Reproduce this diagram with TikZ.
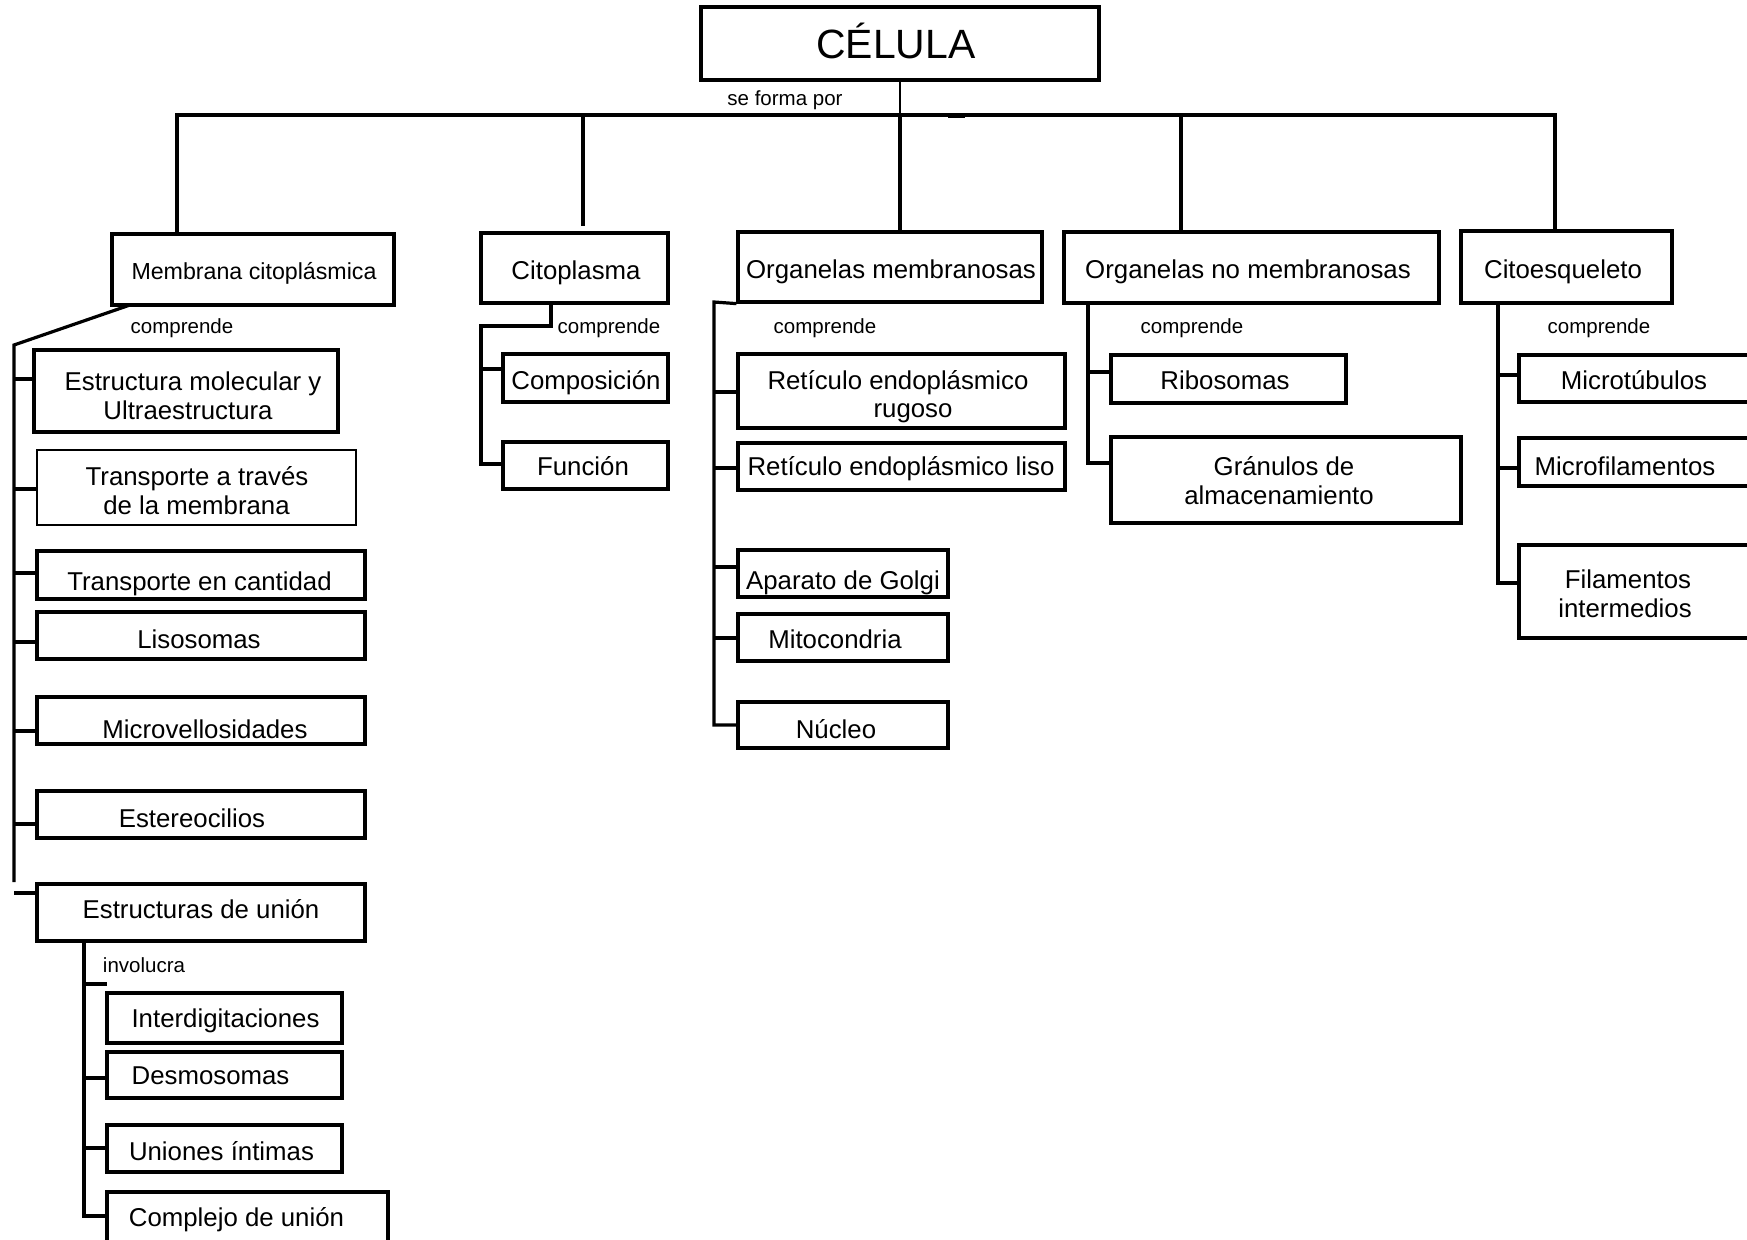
\documentclass[tikz,border=0pt]{standalone}
\usepackage{fontspec}
\setmainfont{Liberation Sans}
% box by its corners: [style]{name}{x1}{y1}{x2}{y2}
\newcommand\boxat[6][box]{%
  \node[#1, minimum width={(#5-#3)*0.5pt}, minimum height={(#6-#4)*0.5pt}]
    (#2) at ({(#3+#5)/2},{(#4+#6)/2}) {};}
% text line set on its baseline: [style]{name}{x}{y}{text}
\newcommand\lblat[5][lbl]{\node[#1] (#2) at (#3,#4) {#5};}
\begin{document}
\begin{tikzpicture}[x=0.5pt,y=-0.5pt,
  box/.style={draw, line width=1.6pt, inner sep=0pt},
  thinbox/.style={draw, line width=0.6pt, inner sep=0pt},
  bigbox/.style={draw, line width=1.9pt, inner sep=0pt},
  link/.style={line width=1.6pt},
  bar/.style={line width=1.4pt},
  hair/.style={line width=0.7pt},
  lbl/.style={anchor=base, inner sep=0pt, font=\fontsize{12.9}{14.5}\selectfont},
  note/.style={anchor=base, inner sep=0pt, font=\fontsize{10.25}{12}\selectfont},
  head/.style={anchor=base, inner sep=0pt, font=\fontsize{11.6}{13}\selectfont},
  title/.style={anchor=base, inner sep=0pt, font=\fontsize{20.45}{24}\selectfont},
]
\clip (0,0) rectangle (1747,1239);
\fill[white] (0,0) rectangle (1747,1239);

% ---------- boxes ----------
\boxat[bigbox]{celula}{701}{7}{1099}{80}
\boxat{mem}{112}{234}{394}{305}
\boxat{citop}{481}{233}{668}{303}
\boxat{om}{738}{232}{1042}{302}
\boxat{onm}{1064}{232}{1439}{303}
\boxat{citoesq}{1461}{231}{1672}{303}

\boxat{mol}{34}{350}{338}{432}
\boxat[thinbox]{trav}{37}{450}{356}{525}
\boxat{cant}{37}{551}{365}{599}
\boxat{lis}{37}{612}{365}{659}
\boxat{mvel}{37}{697}{365}{744}
\boxat{este}{37}{791}{365}{838}
\boxat{union}{37}{884}{365}{941}
\boxat{interd}{107}{993}{342}{1043}
\boxat{desmo}{107}{1052}{342}{1098}
\boxat{unint}{107}{1125}{342}{1172}
\boxat{compl}{107}{1192}{388}{1262}

\boxat{comp}{503}{354}{668}{402}
\boxat{func}{503}{442}{668}{489}

\boxat{rug}{738}{354}{1065}{428}
\boxat{rel}{738}{443}{1065}{490}
\boxat{golgi}{738}{550}{948}{597}
\boxat{mito}{738}{614}{948}{661}
\boxat{nuc}{738}{702}{948}{748}

\boxat{ribo}{1111}{355}{1346}{403}
\boxat{gran}{1111}{437}{1461}{523}

\boxat{mtub}{1519}{355}{1775}{402}
\boxat{mfil}{1519}{438}{1775}{486}
\boxat{fil}{1519}{545}{1775}{638}

% ---------- texts ----------
\lblat[title]{t-celula}{896}{58}{CÉLULA}
\lblat[note]{t-forma}{785}{105}{se forma por}
\lblat[head]{t-mem}{254}{279}{Membrana citoplásmica}
\lblat{t-citop}{576}{279}{Citoplasma}
\lblat{t-om}{891}{278}{Organelas membranosas}
\lblat{t-onm}{1248}{278}{Organelas no membranosas}
\lblat{t-citoesq}{1563}{278}{Citoesqueleto}

\lblat[note]{c-mem}{182}{333}{comprende}
\lblat[note]{c-citop}{609}{333}{comprende}
\lblat[note]{c-om}{825}{333}{comprende}
\lblat[note]{c-onm}{1192}{333}{comprende}
\lblat[note]{c-citoesq}{1599}{333}{comprende}
\lblat[note]{c-union}{144}{972}{involucra}

\lblat{t-mol1}{193}{390}{Estructura molecular y}
\lblat{t-mol2}{188}{419}{Ultraestructura}
\lblat{t-trav1}{197}{485}{Transporte a través}
\lblat{t-trav2}{196.5}{514}{de la membrana}
\lblat{t-cant}{199.5}{590}{Transporte en cantidad}
\lblat{t-lis}{199}{648}{Lisosomas}
\lblat{t-mvel}{205}{738}{Microvellosidades}
\lblat{t-este}{192}{827}{Estereocilios}
\lblat{t-union}{201}{918}{Estructuras de unión}
\lblat{t-interd}{225.5}{1027}{Interdigitaciones}
\lblat{t-desmo}{210.5}{1084}{Desmosomas}
\lblat{t-unint}{221.5}{1160}{Uniones íntimas}
\lblat{t-compl}{236.5}{1226}{Complejo de unión}

\lblat{t-comp}{586}{389}{Composición}
\lblat{t-func}{583}{475}{Función}

\lblat{t-rug1}{898}{389}{Retículo endoplásmico}
\lblat{t-rug2}{913}{417}{rugoso}
\lblat{t-rel}{901}{475}{Retículo endoplásmico liso}
\lblat{t-golgi}{843}{589}{Aparato de Golgi}
\lblat{t-mito}{835}{648}{Mitocondria}
\lblat{t-nuc}{836}{738}{Núcleo}

\lblat{t-ribo}{1225}{389}{Ribosomas}
\lblat{t-gran1}{1284}{475}{Gránulos de}
\lblat{t-gran2}{1279}{504}{almacenamiento}

\lblat{t-mtub}{1634}{389}{Microtúbulos}
\lblat{t-mfil}{1625}{475}{Microfilamentos}
\lblat{t-fil1}{1628}{588}{Filamentos}
\lblat{t-fil2}{1625}{617}{intermedios}

% ---------- top level connectors ----------
\coordinate (bar-l) at (177,115);
\coordinate (bar-r) at (1555,115);
\coordinate (j2) at (583,115);
\coordinate (j2e) at (583,226);
\coordinate (j4) at (1181,115);
\coordinate (nick-a) at (948,115);
\coordinate (nick-b) at (965,115);

\draw[hair] (celula.south) -- (celula.south |- bar-l);
\draw[link] (mem.north -| bar-l) -- (bar-l) -- (bar-r) -- (citoesq.north -| bar-r);
\draw[link] (j2) -- (j2e);
\draw[link] (celula.south |- bar-l) -- (om.north -| celula.south);
\draw[link] (j4) -- (onm.north -| j4);
\draw[line width=2.5pt] (nick-a) -- (nick-b);

% ---------- Membrana citoplásmica ----------
\coordinate (mem-out) at (130,305);
\coordinate (ms-top) at (14,345);
\coordinate (ms-bot) at (14,882);
\draw[link] (mem-out) -- (ms-top) -- (ms-bot);
\draw[link] (ms-top |- 0,379) -- (mol.west |- 0,379);
\draw[link] (ms-top |- 0,489) -- (trav.west |- 0,489);
\draw[link] (ms-top |- 0,573) -- (cant.west |- 0,573);
\draw[link] (ms-top |- 0,642) -- (lis.west |- 0,642);
\draw[link] (ms-top |- 0,731) -- (mvel.west |- 0,731);
\draw[link] (ms-top |- 0,824) -- (este.west |- 0,824);
\draw[link] (ms-bot |- 0,893) -- (union.west |- 0,893);

% ---------- Estructuras de unión ----------
\coordinate (eu-a) at (84,941);
\coordinate (eu-b) at (84,1216);
\coordinate (inv-end) at (107,984);
\draw[link] (union.south -| eu-a) -- (eu-b) -- (compl.west |- eu-b);
\draw[link] (eu-a |- inv-end) -- (inv-end);
\draw[link] (eu-a |- 0,1078) -- (desmo.west |- 0,1078);
\draw[link] (eu-a |- 0,1148) -- (unint.west |- 0,1148);

% ---------- Citoplasma ----------
\coordinate (cp-b) at (551,326);
\coordinate (cp-c) at (481,326);
\coordinate (cp-d) at (481,464);
\draw[link] (citop.south -| cp-b) -- (cp-b) -- (cp-c) -- (cp-d) -- (func.west |- cp-d);
\draw[link] (cp-c |- 0,369) -- (comp.west |- 0,369);

% ---------- Organelas membranosas ----------
\coordinate (om-a) at (714,302);
\coordinate (om-b) at (714,725);
\draw[link] (om.south west) -- (om-a) -- (om-b) -- (nuc.west |- om-b);
\draw[link] (om-a |- 0,392) -- (rug.west |- 0,392);
\draw[link] (om-a |- 0,468) -- (rel.west |- 0,468);
\draw[link] (om-a |- 0,567) -- (golgi.west |- 0,567);
\draw[link] (om-a |- 0,638) -- (mito.west |- 0,638);

% ---------- Organelas no membranosas ----------
\coordinate (onm-a) at (1088,303);
\coordinate (onm-b) at (1088,463);
\draw[link] (onm.south -| onm-a) -- (onm-b) -- (gran.west |- onm-b);
\draw[link] (onm-a |- 0,372) -- (ribo.west |- 0,372);

% ---------- Citoesqueleto ----------
\coordinate (ce-a) at (1498,303);
\coordinate (ce-b) at (1498,583);
\draw[link] (citoesq.south -| ce-a) -- (ce-b) -- (fil.west |- ce-b);
\draw[link] (ce-a |- 0,375) -- (mtub.west |- 0,375);
\draw[link] (ce-a |- 0,468) -- (mfil.west |- 0,468);
\end{tikzpicture}
\end{document}
